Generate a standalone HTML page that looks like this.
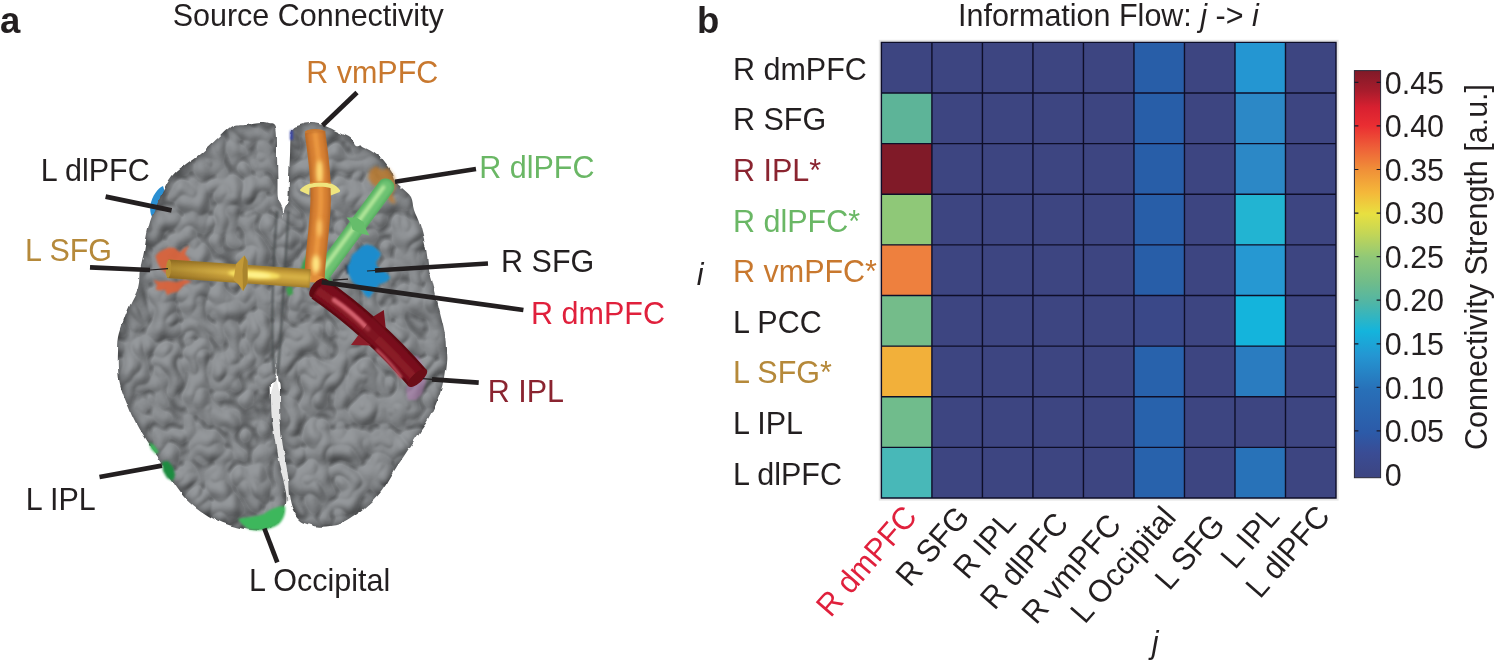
<!DOCTYPE html>
<html><head><meta charset="utf-8"><title>Source Connectivity</title>
<style>
html,body{margin:0;padding:0;background:#fff;}
body{width:1500px;height:667px;overflow:hidden;}
svg{display:block;}
text{font-family:"Liberation Sans", Arial, Helvetica, sans-serif;font-size:31.6px;}
.b{font-weight:bold;font-size:36.5px;}
.i{font-style:italic;}
</style></head><body>
<svg width="1500" height="667" viewBox="0 0 1500 667">
<defs>
<linearGradient id="cbar" x1="0" y1="1" x2="0" y2="0">
<stop offset="0" stop-color="#3d4581"/>
<stop offset="0.06" stop-color="#3a4c94"/>
<stop offset="0.11" stop-color="#2c5aa8"/>
<stop offset="0.216" stop-color="#2870b8"/>
<stop offset="0.30" stop-color="#2496d2"/>
<stop offset="0.36" stop-color="#14b4dc"/>
<stop offset="0.432" stop-color="#52b6a4"/>
<stop offset="0.48" stop-color="#70bc8a"/>
<stop offset="0.54" stop-color="#8fc878"/>
<stop offset="0.60" stop-color="#c4d656"/>
<stop offset="0.648" stop-color="#e8e040"/>
<stop offset="0.70" stop-color="#f4b83a"/>
<stop offset="0.756" stop-color="#f09038"/>
<stop offset="0.81" stop-color="#ee6038"/>
<stop offset="0.864" stop-color="#ea2e32"/>
<stop offset="0.91" stop-color="#d82030"/>
<stop offset="0.95" stop-color="#a81c2c"/>
<stop offset="1" stop-color="#801a28"/>
</linearGradient>

<filter id="brainF" x="100" y="100" width="370" height="450" filterUnits="userSpaceOnUse" color-interpolation-filters="sRGB">
<feTurbulence type="fractalNoise" baseFrequency="0.07" numOctaves="2" seed="3" result="n1"/>
<feDisplacementMap in="SourceGraphic" in2="n1" scale="5" xChannelSelector="R" yChannelSelector="G" result="shape"/>
<feTurbulence type="turbulence" baseFrequency="0.033 0.028" numOctaves="2" seed="11" result="n2"/>
<feGaussianBlur in="n2" stdDeviation="0.8" result="n2b"/>
<feDiffuseLighting in="n2b" surfaceScale="5" diffuseConstant="1.1" lighting-color="#888b8e" result="light">
<feDistantLight azimuth="240" elevation="64"/>
</feDiffuseLighting>
<feColorMatrix in="n2b" type="matrix" values="0 0 0 2.6 0.66  0 0 0 2.6 0.66  0 0 0 2.6 0.66  0 0 0 0 1" result="ao"/>
<feBlend in="light" in2="ao" mode="multiply" result="la"/>
<feGaussianBlur in="shape" stdDeviation="5" result="sb"/>
<feColorMatrix in="sb" type="matrix" values="0 0 0 0.56 0.44  0 0 0 0.56 0.44  0 0 0 0.56 0.44  0 0 0 0 1" result="edge"/>
<feBlend in="la" in2="edge" mode="multiply" result="le"/>
<feComposite in="le" in2="shape" operator="in"/>
</filter>

<filter id="soft" x="100" y="100" width="370" height="450" filterUnits="userSpaceOnUse"><feGaussianBlur stdDeviation="0.9"/></filter>
<filter id="tb1" x="100" y="100" width="370" height="450" filterUnits="userSpaceOnUse"><feGaussianBlur stdDeviation="1.1"/></filter>
<filter id="tb" x="100" y="100" width="370" height="450" filterUnits="userSpaceOnUse"><feGaussianBlur stdDeviation="1.6"/></filter>
<filter id="tb2" x="100" y="100" width="370" height="450" filterUnits="userSpaceOnUse"><feGaussianBlur stdDeviation="2"/></filter>
<linearGradient id="goldShade" gradientUnits="userSpaceOnUse" x1="168" y1="0" x2="228" y2="0"><stop offset="0" stop-color="#6a4a10" stop-opacity="0.38"/><stop offset="1" stop-color="#6a4a10" stop-opacity="0"/></linearGradient>
<clipPath id="clipG"><path d="M300 150H420V300H300Z"/></clipPath>
</defs>
<path d="M163 186C158 188 152 196 150.5 205C149.5 211 151 217 154 219C158 216 161 208 163 200C164.5 195 165 190 163 186Z" fill="#2b8fd2"/>
<path d="M276 376L269 400L271 427L276 454L281 481L287 502L293 498L289 481L285 454L281.5 427L281 400Z" fill="#e6e6e6"/>
<g filter="url(#brainF)">
<path d="M276.0 127.0C274.5 121.7 270.7 123.8 268.0 123.0C265.3 122.2 263.8 121.8 260.0 122.0C256.2 122.2 249.7 123.3 245.0 124.0C240.3 124.7 236.5 123.7 232.0 126.0C227.5 128.3 223.3 133.3 218.0 138.0C212.7 142.7 205.3 149.7 200.0 154.0C194.7 158.3 190.7 160.3 186.0 164.0C181.3 167.7 176.0 171.0 172.0 176.0C168.0 181.0 165.3 187.3 162.0 194.0C158.7 200.7 154.5 209.3 152.0 216.0C149.5 222.7 148.3 228.0 147.0 234.0C145.7 240.0 145.2 246.0 144.0 252.0C142.8 258.0 141.0 264.0 140.0 270.0C139.0 276.0 139.7 282.2 138.0 288.0C136.3 293.8 132.3 299.7 130.0 305.0C127.7 310.3 125.8 314.8 124.0 320.0C122.2 325.2 120.0 330.7 119.0 336.0C118.0 341.3 118.2 346.7 118.0 352.0C117.8 357.3 117.7 362.7 118.0 368.0C118.3 373.3 118.5 378.0 120.0 384.0C121.5 390.0 124.3 397.3 127.0 404.0C129.7 410.7 132.7 417.7 136.0 424.0C139.3 430.3 143.0 436.0 147.0 442.0C151.0 448.0 156.0 454.0 160.0 460.0C164.0 466.0 167.0 472.0 171.0 478.0C175.0 484.0 179.7 491.0 184.0 496.0C188.3 501.0 192.3 504.3 197.0 508.0C201.7 511.7 207.2 515.3 212.0 518.0C216.8 520.7 221.3 522.3 226.0 524.0C230.7 525.7 235.7 527.0 240.0 528.0C244.3 529.0 248.0 529.7 252.0 530.0C256.0 530.3 260.2 530.8 264.0 530.0C267.8 529.2 272.0 527.3 275.0 525.0C278.0 522.7 280.2 519.5 282.0 516.0C283.8 512.5 285.3 508.0 286.0 504.0C286.7 500.0 286.7 496.7 286.0 492.0C285.3 487.3 283.3 481.3 282.0 476.0C280.7 470.7 279.2 466.0 278.0 460.0C276.8 454.0 276.0 446.7 275.0 440.0C274.0 433.3 272.7 426.7 272.0 420.0C271.3 413.3 271.2 406.0 271.0 400.0C270.8 394.0 270.3 388.0 271.0 384.0C271.7 380.0 273.7 385.0 275.0 376.0C276.3 367.0 277.8 346.0 279.0 330.0C280.2 314.0 281.3 295.0 282.0 280.0C282.7 265.0 283.0 251.3 283.0 240.0C283.0 228.7 282.8 218.8 282.0 212.0C281.2 205.2 278.8 204.3 278.0 199.0C277.2 193.7 277.7 187.3 277.5 180.0C277.3 172.7 277.2 163.8 277.0 155.0C276.8 146.2 277.5 132.3 276.0 127.0Z" fill="#85888a"/>
<path d="M291.7 131.0C293.4 126.0 296.9 126.3 300.0 125.0C303.1 123.7 306.8 123.2 310.0 123.0C313.2 122.8 316.2 123.2 319.5 124.0C322.8 124.8 326.8 126.6 330.0 128.0C333.2 129.4 335.5 130.8 339.0 132.5C342.5 134.2 348.2 136.2 351.0 138.5C353.8 140.8 354.0 144.8 356.0 146.0C358.0 147.2 359.3 144.5 363.0 146.0C366.7 147.5 373.5 151.0 378.0 155.0C382.5 159.0 387.2 165.8 390.0 170.0C392.8 174.2 392.5 177.5 394.5 180.5C396.5 183.5 399.2 185.2 402.0 188.0C404.8 190.8 409.0 193.3 411.0 197.0C413.0 200.7 412.5 205.3 414.0 210.0C415.5 214.7 418.0 218.5 420.0 225.0C422.0 231.5 424.5 241.5 426.0 249.0C427.5 256.5 428.0 264.8 429.0 270.0C430.0 275.2 430.2 273.3 432.0 280.0C433.8 286.7 437.4 301.2 439.5 310.0C441.6 318.8 443.6 325.8 444.7 332.5C445.8 339.2 445.8 345.0 446.0 350.0C446.2 355.0 446.6 356.7 446.0 362.5C445.4 368.3 444.2 378.1 442.5 385.0C440.8 391.9 438.4 398.2 436.0 404.0C433.6 409.8 430.7 415.3 428.0 420.0C425.3 424.7 424.3 425.5 420.0 432.0C415.7 438.5 406.0 453.0 402.0 459.0C398.0 465.0 399.5 462.5 396.0 468.0C392.5 473.5 386.2 485.3 381.0 492.0C375.8 498.7 371.0 503.0 365.0 508.0C359.0 513.0 350.8 519.0 345.0 522.0C339.2 525.0 334.5 525.2 330.0 526.0C325.5 526.8 321.7 526.8 318.0 526.5C314.3 526.2 311.0 525.1 308.0 524.0C305.0 522.9 302.5 522.3 300.0 520.0C297.5 517.7 294.8 513.7 293.0 510.0C291.2 506.3 290.2 501.7 289.5 498.0C288.8 494.3 288.8 491.7 288.5 488.0C288.2 484.3 288.6 481.0 288.0 476.0C287.4 471.0 286.0 464.0 285.0 458.0C284.0 452.0 282.8 446.3 282.0 440.0C281.2 433.7 280.8 426.7 280.5 420.0C280.2 413.3 280.2 406.0 280.0 400.0C279.8 394.0 280.0 388.0 279.5 384.0C279.0 380.0 277.4 385.0 277.0 376.0C276.6 367.0 276.5 346.0 277.0 330.0C277.5 314.0 279.3 295.0 280.0 280.0C280.7 265.0 280.5 251.3 281.0 240.0C281.5 228.7 281.8 218.7 283.0 212.0C284.2 205.3 287.0 205.8 288.0 200.0C289.0 194.2 288.7 185.0 289.0 177.5C289.3 170.0 289.6 162.8 290.0 155.0C290.4 147.2 290.0 136.0 291.7 131.0Z" fill="#85888a"/>
</g>
<g filter="url(#soft)" fill="none" stroke="#45484a" stroke-width="2.2" opacity="0.8"><path d="M277 211C275 235 273 270 272.5 300C272 330 272 355 274.5 374"/><path d="M288.3 211C287.5 235 284.5 275 283 300C281.5 325 280 350 277.5 374"/></g>
<g filter="url(#soft)">
<path d="M155.5 256.0 L159.0 252.0 L164.0 249.5 L169.0 247.5 L174.6 248.0 L180.0 252.3 L184.0 248.5 L189.5 245.5 L186.5 250.0 L185.0 254.0 L189.5 259.0 L191.0 264.0 L186.0 270.0 L178.0 276.0 L168.0 275.0 L162.0 270.0 L158.5 265.0 L156.5 260.0Z" fill="#d8623c" opacity="0.95"/>
<path d="M153.5 280.0 L160.0 281.5 L168.0 281.0 L176.7 282.0 L185.0 279.5 L192.0 281.5 L184.0 285.0 L178.0 291.5 L172.0 293.0 L167.0 295.0 L165.0 289.8 L160.0 290.5 L155.7 289.6 L157.0 285.0Z" fill="#d8623c" opacity="0.95"/>
<path d="M350.0 262.0 L352.0 255.0 L358.0 250.0 L362.0 246.0 L367.0 244.5 L373.0 246.0 L378.0 250.0 L381.0 254.0 L379.0 258.0 L376.0 262.0 L377.0 267.0 L383.0 270.0 L388.0 274.0 L390.0 278.0 L386.0 282.0 L380.0 284.0 L376.0 288.0 L372.0 294.0 L369.0 298.0 L365.0 295.0 L361.0 289.0 L356.0 285.0 L352.0 281.0 L349.0 275.0 L347.0 268.0Z" fill="#1b8ccd"/>
<path d="M346.5 265L347.5 274" stroke="#1c2a3a" stroke-width="1.8" fill="none"/><path d="M370.0 170.0 L376.0 166.0 L382.0 170.0 L388.0 168.0 L394.0 176.0 L396.0 186.0 L392.0 194.0 L396.0 204.0 L390.0 202.0 L386.0 192.0 L378.0 188.0 L372.0 184.0 L368.0 178.0Z" fill="#c07c2e" opacity="0.8" filter="url(#tb1)"/>
<path d="M408.0 358.0 L418.0 356.0 L424.0 368.0 L426.0 382.0 L422.0 394.0 L416.0 400.0 L408.0 400.0 L406.0 390.0 L410.0 378.0Z" fill="#b07fb2" opacity="0.6"/>
<path d="M162.0 462.0 L168.0 461.0 L173.0 467.0 L175.0 475.0 L173.0 481.0 L167.0 478.0 L163.0 471.0Z" fill="#1f8c40"/>
<path d="M149.0 442.0 L154.0 445.0 L159.0 452.0 L156.0 454.0 L151.0 449.0Z" fill="#3cb55a"/>
<path d="M238 519C246 517 256 517 264 514C270 509 278 506 285 506C286 512 284 519 279 524C272 529 262 531 252 530C246 528 241 524 238 519Z" fill="#3db75b"/>
<path d="M309 250L303 262L300 272L309 272Z" fill="#3c9f4e"/>
<path d="M286 288L292 286L293 294L288 296Z" fill="#3c9f4e"/>
<path d="M322 280L330 276L332 284L326 287Z" fill="#3c9f4e"/>
<path d="M290 131L293 130L293 140L290 140Z" fill="#3845a8"/>
</g>
<path d="M385.8 187L320 276.5" stroke="#55ac5e" stroke-width="17" fill="none" stroke-linecap="round"/>
<g filter="url(#tb)"><path d="M385.8 187L320 276.5" stroke="#6dc272" stroke-width="13.6" fill="none" stroke-linecap="round"/>
<path d="M385.8 187L320 276.5" stroke="#b9ec9e" stroke-width="3.4" fill="none" stroke-linecap="butt" transform="translate(-1.4 -1)"/></g>
<path d="M346.5 217.5L356.5 217.5L363.5 222L366.5 230L369.5 235.5L360.5 233.5L352.5 229.5L350.5 222Z" fill="#66bd6b"/>
<ellipse cx="315" cy="132" rx="10.2" ry="3" fill="#c87830"/>
<path d="M315 132C317 150 322 175 320.5 205C319.5 232 315 255 314.5 279" stroke="#b96a29" stroke-width="20.5" fill="none" stroke-linecap="butt"/>
<g filter="url(#tb)"><path d="M315 132C317 150 322 175 320.5 205C319.5 232 315 255 314.5 279" stroke="#d67f33" stroke-width="15.6" fill="none" stroke-linecap="butt"/>
<path d="M315 132C317 150 322 175 320.5 205C319.5 232 315 255 314.5 279" stroke="#ea9740" stroke-width="5.3" fill="none" stroke-linecap="butt" transform="translate(0 0)"/></g>
<ellipse cx="314.5" cy="279" rx="10.2" ry="3.5" fill="#e08d3a"/>
<g filter="url(#tb2)"><ellipse cx="319.5" cy="172" rx="3" ry="12" fill="#ffe07a"/><ellipse cx="316" cy="264" rx="4" ry="9" fill="#ffe884"/><ellipse cx="319.5" cy="228" rx="2" ry="9" fill="#ffd070"/></g>
<path d="M300 189.8C303 186.5 306.5 184.6 310 183.6C316 182 325 182 331 183.6C335 185 338 187.5 340.2 190.6L339.6 192L330.8 195.6L330.6 188C324 186.3 316 186.3 309.6 188L309.2 195L300.4 191Z" fill="#efe57e"/>
<path d="M309.8 183.2C316 181.8 325 181.8 331.2 183.2" stroke="#d98a38" stroke-width="1.2" fill="none" opacity="0.8"/>
<path d="M168 268.7L310 278.5" stroke="#a07c2a" stroke-width="18.5" fill="none" stroke-linecap="butt"/>
<g filter="url(#tb)"><path d="M168 268.7L310 278.5" stroke="#c29a38" stroke-width="14.1" fill="none" stroke-linecap="butt"/>
<path d="M168 268.7L310 278.5" stroke="#d6b044" stroke-width="5.5" fill="none" stroke-linecap="butt" transform="translate(0 -0.5)"/></g>
<g filter="url(#tb)"><ellipse cx="254" cy="274.6" rx="26" ry="4.4" fill="#f7e060" transform="rotate(4 254 274.6)"/><ellipse cx="256" cy="275" rx="15" ry="2.6" fill="#fff28c" transform="rotate(4 256 275)"/></g>
<path d="M168 268.7L228 272.85" stroke="url(#goldShade)" stroke-width="18.5" fill="none"/>
<ellipse cx="168.6" cy="268.7" rx="2.6" ry="9.2" fill="#b48f33" transform="rotate(4 168.6 268.7)"/>
<path d="M244.3 255.5L247.5 261L247.5 283L243 291L238.5 284.5L233.5 280L236 264Z" fill="#c39a38"/>
<path d="M244.3 255.5L247.5 261L247.5 283L243 291L242.5 270Z" fill="#a9842c"/>
<ellipse cx="318" cy="288" rx="11.5" ry="6" fill="#5f0a13" transform="rotate(-50 318 288)"/>
<path d="M318.5 288.5Q372.6 326.2 417.5 378" stroke="#5c0912" stroke-width="24.5" fill="none" stroke-linecap="butt"/>
<g filter="url(#tb1)"><path d="M318.5 288.5Q372.6 326.2 417.5 378" stroke="#79111d" stroke-width="19.6" fill="none" stroke-linecap="butt"/>
<path d="M318.5 288.5Q372.6 326.2 417.5 378" stroke="#8a1c28" stroke-width="7.3" fill="none" stroke-linecap="butt" transform="translate(-1.5 1.5)"/></g>
<g filter="url(#tb1)"><path d="M334 300Q352 312 368 329" stroke="#d4606d" stroke-width="4.6" fill="none" stroke-linecap="round"/><path d="M377 350Q390 362 401 377" stroke="#c24e5b" stroke-width="3" fill="none" stroke-linecap="round"/></g>
<ellipse cx="417.5" cy="378" rx="12.25" ry="5" fill="#6c0d17" transform="rotate(-42 417.5 378)"/>
<path d="M383.8 310L385.8 329L373 316.8Z" fill="#79111d"/>
<path d="M351 345L371.2 345.5L358.5 335Z" fill="#8c1e2a"/>
<path d="M373 316.8L385.8 329L371.2 345.5L358.5 335Z" fill="#79111d" opacity="0.55"/>
<path d="M357 92.5L322.5 125.5" stroke="#231f20" stroke-width="4.7" fill="none"/>
<path d="M476 169L395 181.7" stroke="#231f20" stroke-width="4.7" fill="none"/>
<path d="M488 263.5L375 270.5" stroke="#231f20" stroke-width="4.7" fill="none"/>
<path d="M375 270.5L367 271" stroke="#231f20" stroke-width="1.2" fill="none"/>
<path d="M523.4 310L321.7 282.2" stroke="#231f20" stroke-width="4.7" fill="none"/>
<path d="M333 280.2L348 279.2" stroke="#231f20" stroke-width="1.2" fill="none"/>
<path d="M478.7 382.7L432 379.3" stroke="#231f20" stroke-width="4.7" fill="none"/>
<path d="M432 379.3L423 378.6" stroke="#231f20" stroke-width="1.2" fill="none"/>
<path d="M105.6 196.6L171.6 210.4" stroke="#231f20" stroke-width="4.7" fill="none"/>
<path d="M90 267.4L150 270" stroke="#231f20" stroke-width="4.7" fill="none"/>
<path d="M150 270L168 268.7" stroke="#231f20" stroke-width="1.2" fill="none"/>
<path d="M99.5 477L162 465.6" stroke="#231f20" stroke-width="4.7" fill="none"/>
<path d="M277.3 562.4L264.4 528.5" stroke="#231f20" stroke-width="4.7" fill="none"/>
<text x="0" y="32.5" class="b" fill="#231f20">a</text>
<text transform="translate(172.7 26.3) scale(0.965 1)" fill="#231f20">Source Connectivity</text>
<text transform="translate(306.2 82.5) scale(0.965 1)" fill="#c8782e">R vmPFC</text>
<text transform="translate(40.7 180.7) scale(0.965 1)" fill="#231f20">L dlPFC</text>
<text transform="translate(25.1 261.3) scale(0.965 1)" fill="#b5893a">L SFG</text>
<text transform="translate(479.2 178.3) scale(0.965 1)" fill="#6ab765">R dlPFC</text>
<text transform="translate(501.1 271.9) scale(0.965 1)" fill="#231f20">R SFG</text>
<text transform="translate(531.1 323.8) scale(0.965 1)" fill="#e0203c">R dmPFC</text>
<text transform="translate(487.7 402.3) scale(0.965 1)" fill="#8a2430">R IPL</text>
<text transform="translate(25.7 509.6) scale(0.965 1)" fill="#231f20">L IPL</text>
<text transform="translate(249.0 590.6) scale(0.965 1)" fill="#231f20">L Occipital</text>
<text x="697" y="32.7" class="b" fill="#231f20">b</text>
<text transform="translate(958 25.8) scale(0.965 1)" fill="#231f20">Information Flow: <tspan class="i">j</tspan> -&gt; <tspan class="i">i</tspan></text>
<rect x="878.8" y="39.8" width="459.8" height="460.8" fill="#e6e6e6"/>
<rect x="881.4" y="42.4" width="454.6" height="455.6" fill="#3d4581"/>
<rect x="1133.96" y="42.40" width="50.51" height="50.62" fill="#285ea8"/>
<rect x="1234.98" y="42.40" width="50.51" height="50.62" fill="#2496d2"/>
<rect x="881.40" y="93.02" width="50.51" height="50.62" fill="#5db498"/>
<rect x="1133.96" y="93.02" width="50.51" height="50.62" fill="#285ea8"/>
<rect x="1234.98" y="93.02" width="50.51" height="50.62" fill="#2c88c6"/>
<rect x="881.40" y="143.64" width="50.51" height="50.62" fill="#801a28"/>
<rect x="1133.96" y="143.64" width="50.51" height="50.62" fill="#285ea8"/>
<rect x="1234.98" y="143.64" width="50.51" height="50.62" fill="#2c88c6"/>
<rect x="881.40" y="194.27" width="50.51" height="50.62" fill="#8fc878"/>
<rect x="1133.96" y="194.27" width="50.51" height="50.62" fill="#285ea8"/>
<rect x="1234.98" y="194.27" width="50.51" height="50.62" fill="#22b4d2"/>
<rect x="881.40" y="244.89" width="50.51" height="50.62" fill="#ee803e"/>
<rect x="1133.96" y="244.89" width="50.51" height="50.62" fill="#285ea8"/>
<rect x="1234.98" y="244.89" width="50.51" height="50.62" fill="#2698d2"/>
<rect x="881.40" y="295.51" width="50.51" height="50.62" fill="#74bc8a"/>
<rect x="1133.96" y="295.51" width="50.51" height="50.62" fill="#3a4888"/>
<rect x="1234.98" y="295.51" width="50.51" height="50.62" fill="#14b4dc"/>
<rect x="881.40" y="346.13" width="50.51" height="50.62" fill="#f2b03a"/>
<rect x="1133.96" y="346.13" width="50.51" height="50.62" fill="#2862ac"/>
<rect x="1234.98" y="346.13" width="50.51" height="50.62" fill="#2a7cc0"/>
<rect x="881.40" y="396.76" width="50.51" height="50.62" fill="#70bc8c"/>
<rect x="1133.96" y="396.76" width="50.51" height="50.62" fill="#2862ac"/>
<rect x="881.40" y="447.38" width="50.51" height="50.62" fill="#48b8b8"/>
<rect x="1133.96" y="447.38" width="50.51" height="50.62" fill="#2862ac"/>
<rect x="1234.98" y="447.38" width="50.51" height="50.62" fill="#2872b8"/>
<path d="M881.40 42.4V498.0M881.4 42.40H1336.0M931.91 42.4V498.0M881.4 93.02H1336.0M982.42 42.4V498.0M881.4 143.64H1336.0M1032.93 42.4V498.0M881.4 194.27H1336.0M1083.44 42.4V498.0M881.4 244.89H1336.0M1133.96 42.4V498.0M881.4 295.51H1336.0M1184.47 42.4V498.0M881.4 346.13H1336.0M1234.98 42.4V498.0M881.4 396.76H1336.0M1285.49 42.4V498.0M881.4 447.38H1336.0M1336.00 42.4V498.0M881.4 498.00H1336.0" stroke="#0e0e28" stroke-width="1.4" fill="none" stroke-linecap="square"/>
<text transform="translate(733.0 79.6) scale(0.965 1)" fill="#231f20">R dmPFC</text>
<text transform="translate(733.0 130.2) scale(0.965 1)" fill="#231f20">R SFG</text>
<text transform="translate(733.0 180.9) scale(0.965 1)" fill="#8a2430">R IPL*</text>
<text transform="translate(733.0 231.5) scale(0.965 1)" fill="#6ab765">R dlPFC*</text>
<text transform="translate(733.0 282.1) scale(0.965 1)" fill="#c8782e">R vmPFC*</text>
<text transform="translate(733.0 332.7) scale(0.965 1)" fill="#231f20">L PCC</text>
<text transform="translate(733.0 383.3) scale(0.965 1)" fill="#b5893a">L SFG*</text>
<text transform="translate(733.0 434.0) scale(0.965 1)" fill="#231f20">L IPL</text>
<text transform="translate(733.0 484.6) scale(0.965 1)" fill="#231f20">L dlPFC</text>
<text transform="translate(696.7 284.8) scale(0.965 1)" fill="#231f20" class="i">i</text>
<text transform="translate(918.4 517.5) rotate(-49) scale(0.965 1)" text-anchor="end" fill="#e0203c">R dmPFC</text>
<text transform="translate(971.1 518.0) rotate(-49) scale(0.965 1)" text-anchor="end" fill="#231f20">R SFG</text>
<text transform="translate(1017.6 523.3) rotate(-49) scale(0.965 1)" text-anchor="end" fill="#231f20">R IPL</text>
<text transform="translate(1070.0 524.4) rotate(-49) scale(0.965 1)" text-anchor="end" fill="#231f20">R dlPFC</text>
<text transform="translate(1122.7 526.0) rotate(-49) scale(0.965 1)" text-anchor="end" fill="#231f20">R vmPFC</text>
<text transform="translate(1177.5 518.5) rotate(-49) scale(0.965 1)" text-anchor="end" fill="#231f20">L Occipital</text>
<text transform="translate(1226.4 526.0) rotate(-49) scale(0.965 1)" text-anchor="end" fill="#231f20">L SFG</text>
<text transform="translate(1280.9 517.5) rotate(-49) scale(0.965 1)" text-anchor="end" fill="#231f20">L IPL</text>
<text transform="translate(1331.5 517.5) rotate(-49) scale(0.965 1)" text-anchor="end" fill="#231f20">L dlPFC</text>
<text transform="translate(1151.7 652.8) scale(0.965 1)" fill="#231f20" class="i">j</text>
<rect x="1354.4" y="70.6" width="26.199999999999818" height="407.1" fill="url(#cbar)" stroke="#2a2a3a" stroke-width="1"/>
<text transform="translate(1384.7 485.6) scale(0.965 1)" fill="#231f20">0</text>
<text transform="translate(1384.7 442.0) scale(0.965 1)" fill="#231f20">0.05</text>
<text transform="translate(1384.7 398.5) scale(0.965 1)" fill="#231f20">0.10</text>
<text transform="translate(1384.7 354.9) scale(0.965 1)" fill="#231f20">0.15</text>
<text transform="translate(1384.7 311.3) scale(0.965 1)" fill="#231f20">0.20</text>
<text transform="translate(1384.7 267.7) scale(0.965 1)" fill="#231f20">0.25</text>
<text transform="translate(1384.7 224.2) scale(0.965 1)" fill="#231f20">0.30</text>
<text transform="translate(1384.7 180.6) scale(0.965 1)" fill="#231f20">0.35</text>
<text transform="translate(1384.7 137.0) scale(0.965 1)" fill="#231f20">0.40</text>
<text transform="translate(1384.7 93.5) scale(0.965 1)" fill="#231f20">0.45</text>
<path d="M1354.4 430.9h4M1380.6 430.9h-4M1354.4 387.4h4M1380.6 387.4h-4M1354.4 343.8h4M1380.6 343.8h-4M1354.4 300.2h4M1380.6 300.2h-4M1354.4 256.6h4M1380.6 256.6h-4M1354.4 213.1h4M1380.6 213.1h-4M1354.4 169.5h4M1380.6 169.5h-4M1354.4 125.9h4M1380.6 125.9h-4M1354.4 82.4h4M1380.6 82.4h-4" stroke="#1a1a2a" stroke-width="1.2" fill="none"/>
<text transform="translate(1486.5 450) rotate(-90) scale(0.965 1)" fill="#231f20">Connectivity Strength [a.u.]</text>
</svg>
</body></html>
